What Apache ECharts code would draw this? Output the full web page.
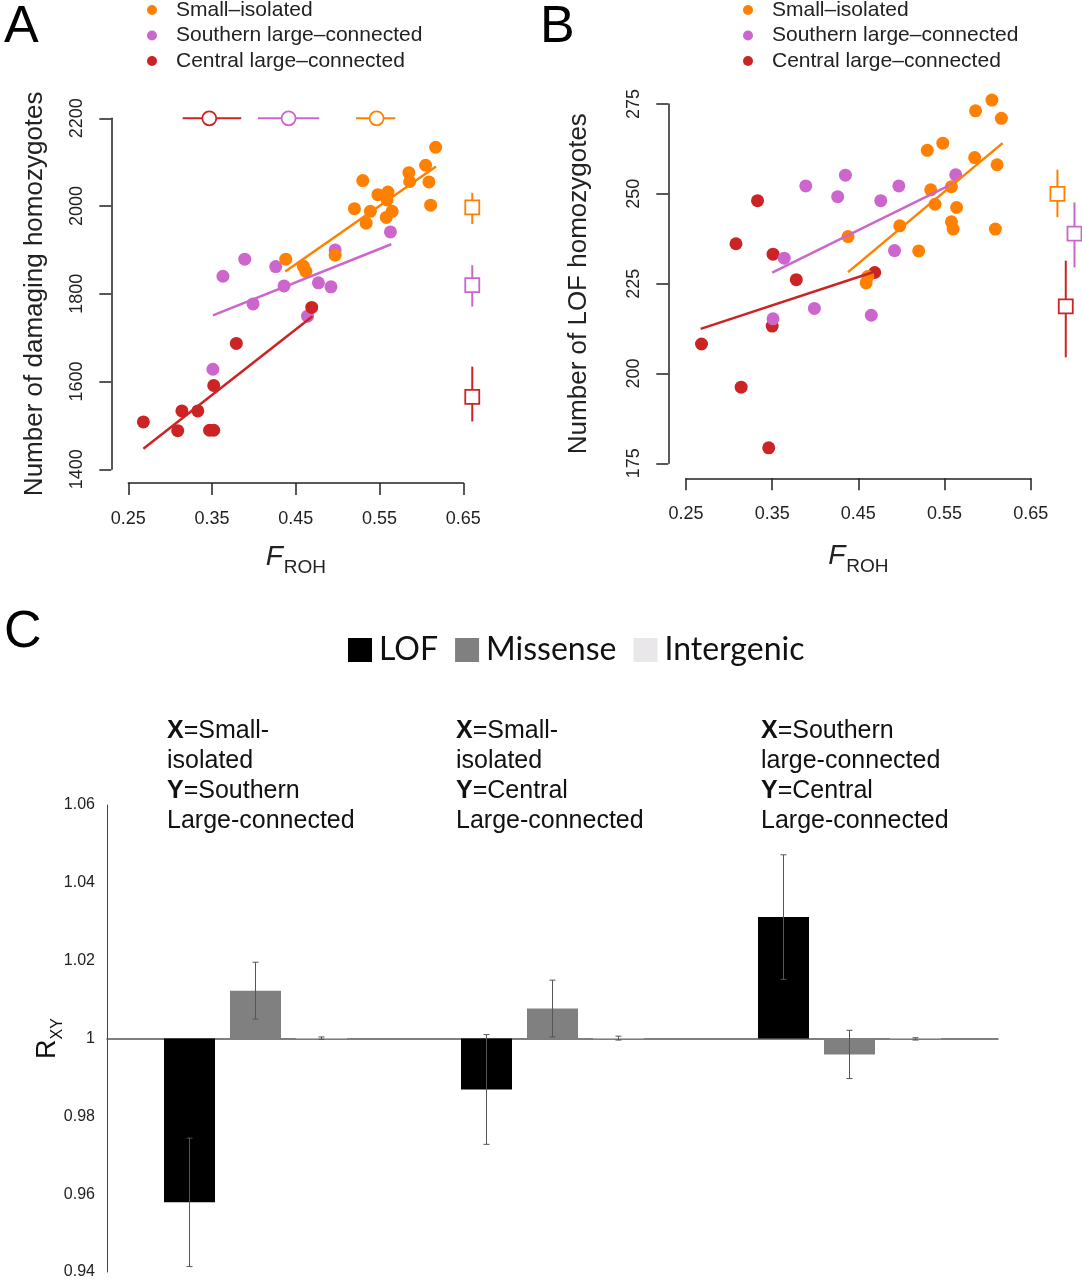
<!DOCTYPE html>
<html><head><meta charset="utf-8">
<script src="https://cdn.jsdelivr.net/npm/echarts@6/dist/echarts.min.js"></script>
<style>html,body{margin:0;padding:0;background:#fff}#c{width:1082px;height:1280px}</style>
</head><body><div id="c"></div><script>
// ---------- shared ----------
const popNames = ['Small–isolated', 'Southern large–connected', 'Central large–connected'];
const popColors = ['#FF8000', '#CC66CC', '#CC2424'];

// ---------- Panel A (damaging homozygotes vs F_ROH) ----------
const aXTicks = [0.25, 0.35, 0.45, 0.55, 0.65];
const aYTicks = [1400, 1600, 1800, 2000, 2200];
const aSmallF = [0.617, 0.605, 0.585, 0.586, 0.609, 0.530, 0.611, 0.548, 0.560, 0.559, 0.520, 0.539, 0.565, 0.558, 0.534, 0.497, 0.438, 0.459, 0.462];
const aSmallY = [2134, 2093, 2076, 2056, 2055, 2058, 2002, 2026, 2032, 2014, 1994, 1988, 1988, 1974, 1961, 1888, 1879, 1863, 1851];
const aSouthF = [0.563, 0.497, 0.389, 0.426, 0.363, 0.436, 0.477, 0.492, 0.399, 0.464, 0.351];
const aSouthY = [1941, 1900, 1879, 1862, 1840, 1818, 1825, 1816, 1777, 1749, 1628];
const aCentF = [0.469, 0.379, 0.352, 0.314, 0.333, 0.268, 0.309, 0.347, 0.352];
const aCentY = [1769, 1687, 1591, 1533, 1533, 1508, 1488, 1489, 1489];
const aFitSmall = [[0.4375, 1851], [0.6174, 2090]];
const aFitSouth = [[0.351, 1751], [0.564, 1913]];
const aFitCent = [[0.268, 1447], [0.470, 1749]];
// mean F_ROH with interval (drawn at top), order: small, south, central
const aTopLevel = 2200;
const aTopMean = [0.5465, 0.4414, 0.3467];
const aTopLo = [0.5218, 0.4048, 0.3149];
const aTopHi = [0.5688, 0.4780, 0.3849];
// mean count with interval (drawn at right)
const aSideF = [0.6607, 0.6607, 0.6607];
const aSideMean = [1997, 1820, 1565];
const aSideLo = [1959, 1771, 1509];
const aSideHi = [2030, 1865, 1634];

// ---------- Panel B (LOF homozygotes vs F_ROH) ----------
const bXTicks = [0.25, 0.35, 0.45, 0.55, 0.65];
const bYTicks = [175, 200, 225, 250, 275];
const bSmallF = [0.605, 0.586, 0.616, 0.548, 0.530, 0.585, 0.611, 0.534, 0.558, 0.539, 0.564, 0.498, 0.558, 0.560, 0.609, 0.520, 0.438, 0.459, 0.461];
const bSmallY = [276.1, 273.1, 271.0, 264.1, 262.1, 260.1, 258.1, 251.1, 252.0, 247.1, 246.2, 241.1, 242.2, 240.2, 240.2, 234.1, 238.1, 225.2, 227.0];
const bSouthF = [0.563, 0.435, 0.389, 0.497, 0.426, 0.476, 0.364, 0.492, 0.399, 0.465, 0.351];
const bSouthY = [255.3, 255.2, 252.2, 252.2, 249.2, 248.1, 232.1, 234.2, 218.1, 216.2, 215.2];
const bCentF = [0.333, 0.308, 0.351, 0.378, 0.469, 0.350, 0.268, 0.314, 0.346];
const bCentY = [248.1, 236.1, 233.2, 226.1, 228.1, 213.2, 208.2, 196.2, 179.3];
const bFitSmall = [[0.438, 228.2], [0.6174, 264.1]];
const bFitSouth = [[0.350, 228.1], [0.5609, 253.0]];
const bFitCent = [[0.267, 212.4], [0.4686, 228.3]];
const bSideF = [0.681, 0.7008, 0.6907];
const bSideMean = [250.0, 238.9, 218.7];
const bSideLo = [243.5, 229.5, 204.5];
const bSideHi = [256.7, 247.6, 231.4];

// ---------- Panel C (R_XY) ----------
const cGroups = ['X=Small-isolated Y=Southern Large-connected', 'X=Small-isolated Y=Central Large-connected', 'X=Southern large-connected Y=Central Large-connected'];
const cTypes = ['LOF', 'Missense', 'Intergenic'];
const cLof = [0.9579, 0.9869, 1.0312];
const cLofErr = [0.0165, 0.0141, 0.0160];
const cMis = [1.0123, 1.0077, 0.9959];
const cMisErr = [0.0073, 0.0073, 0.0062];
const cInt = [1.0001, 1.0001, 0.9999];
const cIntErr = [0.0003, 0.0005, 0.0003];
const cYTicks = [0.94, 0.96, 0.98, 1, 1.02, 1.04, 1.06];

// ---------- chart ----------
const FONT = 'Liberation Sans';
const INK = '#222';

function scatter(name, F, Y, color, ai) {
  return { type: 'scatter', name, xAxisIndex: ai, yAxisIndex: ai, data: F.map((f, i) => [f, Y[i]]),
    symbolSize: 13, itemStyle: { color, opacity: 1 }, clip: false, z: 3, silent: true };
}
function fit(data, color, ai) {
  return { type: 'line', xAxisIndex: ai, yAxisIndex: ai, data, symbol: 'none', showSymbol: false,
    lineStyle: { color, width: 2.5 }, clip: false, z: 4, silent: true };
}
function sideCI(F, M, L, H, ai) {
  return { type: 'custom', xAxisIndex: ai, yAxisIndex: ai, clip: false, z: 5, silent: true,
    data: F.map((f, i) => [f, M[i], L[i], H[i], i]),
    renderItem(params, api) {
      const x = api.value(0), col = popColors[api.value(4)];
      const pm = api.coord([x, api.value(1)]), pl = api.coord([x, api.value(2)]), ph = api.coord([x, api.value(3)]);
      return { type: 'group', children: [
        { type: 'line', shape: { x1: pm[0], y1: pl[1], x2: pm[0], y2: ph[1] }, style: { stroke: col, lineWidth: 2 } },
        { type: 'rect', shape: { x: pm[0] - 7, y: pm[1] - 7, width: 14, height: 14 }, style: { fill: '#fff', stroke: col, lineWidth: 1.8 } }
      ] };
    } };
}
function topCI(M, L, H, level, ai) {
  return { type: 'custom', xAxisIndex: ai, yAxisIndex: ai, clip: false, z: 5, silent: true,
    data: M.map((m, i) => [m, level, L[i], H[i], i]),
    renderItem(params, api) {
      const y = api.value(1), col = popColors[api.value(4)];
      const pm = api.coord([api.value(0), y]), pl = api.coord([api.value(2), y]), ph = api.coord([api.value(3), y]);
      return { type: 'group', children: [
        { type: 'line', shape: { x1: pl[0], y1: pm[1], x2: ph[0], y2: pm[1] }, style: { stroke: col, lineWidth: 2 } },
        { type: 'circle', shape: { cx: pm[0], cy: pm[1], r: 7 }, style: { fill: '#fff', stroke: col, lineWidth: 1.8 } }
      ] };
    } };
}
const BAR_W = 51, BAR_GAP = 15;
function barErr(vals, errs, k) {
  return { type: 'custom', xAxisIndex: 2, yAxisIndex: 2, z: 6, silent: true,
    data: vals.map((v, i) => [i, v - 1, errs[i]]),
    renderItem(params, api) {
      const c = api.value(0), v = api.value(1), e = api.value(2);
      const pt = api.coord([c, v + e]), pb = api.coord([c, v - e]);
      const x = pt[0] + (k - 1) * (BAR_W + BAR_GAP);
      const st = { stroke: '#555', lineWidth: 1 };
      return { type: 'group', children: [
        { type: 'line', shape: { x1: x, y1: pt[1], x2: x, y2: pb[1] }, style: st },
        { type: 'line', shape: { x1: x - 3, y1: pt[1], x2: x + 3, y2: pt[1] }, style: st },
        { type: 'line', shape: { x1: x - 3, y1: pb[1], x2: x + 3, y2: pb[1] }, style: st }
      ] };
    } };
}
function bar(name, vals, color) {
  return { type: 'bar', name, xAxisIndex: 2, yAxisIndex: 2, data: vals.map(v => v - 1),
    barWidth: BAR_W, barGap: (BAR_GAP / BAR_W * 100).toFixed(1) + '%', itemStyle: { color }, z: 3, silent: true };
}

const axisLineStyle = { color: INK, width: 1.5 };
const froh = {
  name: '{f|F}{s|ROH}', nameLocation: 'middle',
  nameTextStyle: { rich: {
    f: { fontSize: 28, fontStyle: 'italic', fontFamily: FONT, color: INK, verticalAlign: 'top', padding: [0, 1, 6, 0] },
    s: { fontSize: 19, fontFamily: FONT, color: INK, verticalAlign: 'bottom' } } }
};
function xAxisAB(gi, ticks, offset, nameGap) {
  return Object.assign({ type: 'value', gridIndex: gi, min: ticks[0], max: ticks[ticks.length - 1],
    interval: +(ticks[1] - ticks[0]).toFixed(6), offset, nameGap,
    axisLine: { show: true, onZero: false, lineStyle: axisLineStyle },
    axisTick: { show: true, length: 12, lineStyle: axisLineStyle },
    axisLabel: { fontSize: 18, color: INK, fontFamily: FONT, margin: 27, formatter: v => v.toFixed(2) },
    splitLine: { show: false } }, froh);
}
function yAxisAB(gi, ticks, offset, name, nameGap) {
  return { type: 'value', gridIndex: gi, min: ticks[0], max: ticks[ticks.length - 1],
    interval: ticks[1] - ticks[0], offset, name, nameLocation: 'middle', nameGap,
    nameTextStyle: { fontSize: 26, color: INK, fontFamily: FONT },
    axisLine: { show: true, onZero: false, lineStyle: axisLineStyle },
    axisTick: { show: true, length: 12, lineStyle: axisLineStyle },
    axisLabel: { fontSize: 18, color: INK, fontFamily: FONT, rotate: 90, margin: 25, formatter: v => String(v) },
    splitLine: { show: false } };
}
function popLegend(left) {
  return { data: popNames, orient: 'vertical', left, top: -1, padding: 0, itemWidth: 10, itemHeight: 10,
    icon: 'circle', itemGap: 3.5, selectedMode: false,
    textStyle: { fontSize: 21, lineHeight: 22, color: INK, fontFamily: FONT, padding: [0, 0, 0, 14] } };
}

const chart = echarts.init(document.getElementById('c'), null, { renderer: 'canvas' });
chart.setOption({
  animation: false,
  backgroundColor: '#fff',
  grid: [
    { left: 128.3, top: 118.3, width: 335, height: 351 },
    { left: 686, top: 104, width: 344.7, height: 359.3 },
    { left: 107, top: 805, width: 891, height: 469.2 }
  ],
  legend: [
    popLegend(147),
    popLegend(743),
    { data: cTypes, left: 348, top: 633, padding: 0, itemWidth: 24, itemHeight: 24, itemGap: 17, icon: 'rect',
      selectedMode: false, textStyle: { fontSize: 32, lineHeight: 34, color: '#111', fontFamily: 'Lato', padding: [0, 0, 0, 2] } }
  ],
  xAxis: [
    xAxisAB(0, aXTicks, 13.7, 60),
    xAxisAB(1, bXTicks, 15, 64),
    { type: 'category', gridIndex: 2, data: cGroups,
      axisLine: { show: true, onZero: true, lineStyle: { color: '#555', width: 1.5 } },
      axisTick: { show: false }, axisLabel: { show: false }, splitLine: { show: false } }
  ],
  yAxis: [
    yAxisAB(0, aYTicks, 17, 'Number of damaging homozygotes', 63),
    yAxisAB(1, bYTicks, 17.7, 'Number of LOF homozygotes', 76),
    { type: 'value', gridIndex: 2, min: +(cYTicks[0] - 1).toFixed(2), max: +(cYTicks[cYTicks.length - 1] - 1).toFixed(2),
      interval: 0.02,
      axisLine: { show: true, lineStyle: { color: '#444', width: 1 } },
      axisTick: { show: false }, splitLine: { show: false },
      axisLabel: { fontSize: 16, color: INK, fontFamily: FONT, margin: 12,
        formatter: v => { const r = Math.round((1 + v) * 100) / 100; return r === 1 ? '1' : r.toFixed(2); } },
      name: '{r|R}{s|XY}', nameLocation: 'middle', nameGap: 41, nameMoveOverlap: false,
      nameTextStyle: { rich: {
        r: { fontSize: 27, fontFamily: FONT, color: '#111', verticalAlign: 'top', padding: [0, 0, 5, 0] },
        s: { fontSize: 16, fontFamily: FONT, color: '#111', verticalAlign: 'bottom' } } } }
  ],
  series: [
    scatter(popNames[1], aSouthF, aSouthY, popColors[1], 0),
    scatter(popNames[2], aCentF, aCentY, popColors[2], 0),
    scatter(popNames[0], aSmallF, aSmallY, popColors[0], 0),
    fit(aFitSouth, popColors[1], 0), fit(aFitCent, popColors[2], 0), fit(aFitSmall, popColors[0], 0),
    topCI(aTopMean, aTopLo, aTopHi, aTopLevel, 0),
    sideCI(aSideF, aSideMean, aSideLo, aSideHi, 0),

    scatter(popNames[2], bCentF, bCentY, popColors[2], 1),
    scatter(popNames[1], bSouthF, bSouthY, popColors[1], 1),
    scatter(popNames[0], bSmallF, bSmallY, popColors[0], 1),
    fit(bFitSouth, popColors[1], 1), fit(bFitCent, popColors[2], 1), fit(bFitSmall, popColors[0], 1),
    sideCI(bSideF, bSideMean, bSideLo, bSideHi, 1),

    bar(cTypes[0], cLof, '#000000'),
    bar(cTypes[1], cMis, '#808080'),
    bar(cTypes[2], cInt, '#E9E7E9'),
    barErr(cLof, cLofErr, 0), barErr(cMis, cMisErr, 1), barErr(cInt, cIntErr, 2)
  ],
  graphic: [
    { type: 'text', left: 4, top: 2, style: { text: 'A', fontSize: 52, fontFamily: FONT, fill: '#000' } },
    { type: 'text', left: 540, top: 2, style: { text: 'B', fontSize: 52, fontFamily: FONT, fill: '#000' } },
    { type: 'text', left: 4, top: 607, style: { text: 'C', fontSize: 52, fontFamily: FONT, fill: '#000' } },
    ...[
      { x: 167, t: '{b|X}=Small-\nisolated\n{b|Y}=Southern\nLarge-connected' },
      { x: 456, t: '{b|X}=Small-\nisolated\n{b|Y}=Central\nLarge-connected' },
      { x: 761, t: '{b|X}=Southern\nlarge-connected\n{b|Y}=Central\nLarge-connected' }
    ].map(o => ({ type: 'text', left: o.x, top: 716, style: {
      text: o.t, fontSize: 25, lineHeight: 30, fontFamily: FONT, fill: '#111',
      rich: { b: { fontWeight: 'bold', fontSize: 25, lineHeight: 30, fontFamily: FONT, fill: '#111' } } } }))
  ]
});
</script></body></html>
